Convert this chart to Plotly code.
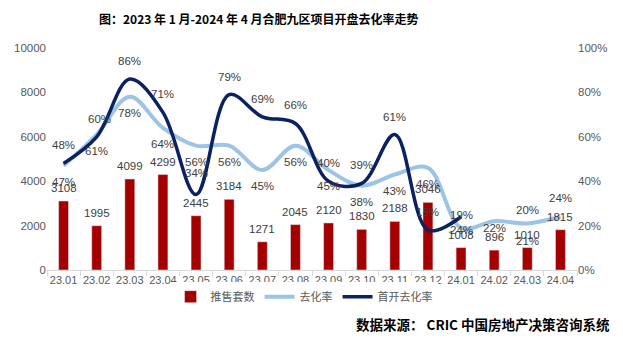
import plotly.graph_objects as go

months = ["23.01","23.02","23.03","23.04","23.05","23.06","23.07","23.08",
          "23.09","23.10","23.11","23.12","24.01","24.02","24.03","24.04"]
supply = [3108,1995,4099,4299,2445,3184,1271,2045,2120,1830,2188,3046,1008,896,1010,1815]
sell_rate = [0.47,0.61,0.78,0.64,0.56,0.56,0.45,0.56,0.45,0.38,0.43,0.46,0.19,0.22,0.21,0.24]
first_rate = [0.48,0.60,0.86,0.71,0.34,0.79,0.69,0.66,0.40,0.39,0.61,0.18,0.24,None,0.20,None]

LABEL_FONT = dict(family="Liberation Sans, Noto Sans CJK SC", size=11.5, color="#404040")

# pixel offsets of data labels (style only)
light_shift = [-16] * len(months)
light_shift[12] = 13
light_shift[13] = -7
light_shift[14] = -18
light_shift[15] = 19
dark_shift = [18] * len(months)
dark_shift[4] = 22
dark_shift[12] = -13
dark_shift[14] = 16
dark_xshift = [0] * len(months)
dark_xshift[1] = 3

fig = go.Figure()
fig.add_trace(go.Bar(
    x=months, y=supply, name="推售套数", marker_color="#A50000", width=0.3,
    yaxis="y"))
fig.add_trace(go.Scatter(
    x=months, y=sell_rate, name="去化率", mode="lines",
    line=dict(color="#9DC3E6", width=4, shape="spline", smoothing=1),
    yaxis="y2"))
fig.add_trace(go.Scatter(
    x=months, y=first_rate, name="首开去化率", mode="lines",
    line=dict(color="#0B2160", width=3.5, shape="spline", smoothing=1),
    connectgaps=False, yaxis="y2"))

# annotations on a category axis use the category index
for i, v in enumerate(supply):
    fig.add_annotation(x=i, y=v, xref="x", yref="y", text=str(v), showarrow=False,
                       yshift=13, font=LABEL_FONT)
for i, (v, s) in enumerate(zip(sell_rate, light_shift)):
    fig.add_annotation(x=i, y=v, xref="x", yref="y2", text=f"{round(v*100)}%",
                       showarrow=False, yshift=s, font=LABEL_FONT)
for i, (v, s, xs) in enumerate(zip(first_rate, dark_shift, dark_xshift)):
    if v is None:
        continue
    fig.add_annotation(x=i, y=v, xref="x", yref="y2", text=f"{round(v*100)}%",
                       showarrow=False, yshift=s, xshift=xs, font=LABEL_FONT)

fig.update_layout(
    width=623, height=340,
    margin=dict(l=47, r=46, t=48, b=70),
    paper_bgcolor="white", plot_bgcolor="white",
    font=dict(family="Liberation Sans, Noto Sans CJK SC", size=11, color="#595959"),
    bargap=0.7,
    xaxis=dict(type="category", range=[-0.5, len(months) - 0.5],
               showgrid=False, showline=True, linecolor="#D9D9D9",
               ticks="outside", tickson="boundaries", ticklen=5, tickcolor="#D9D9D9",
               tickangle=0, tickfont=dict(size=11, color="#595959")),
    yaxis=dict(range=[0, 10000], dtick=2000, tickformat="d", showgrid=False,
               showline=False, zeroline=False, tickfont=dict(size=11.5, color="#595959")),
    yaxis2=dict(range=[0, 1], dtick=0.2, tickformat=".0%", overlaying="y", side="right",
                showgrid=False, showline=False, zeroline=False,
                tickfont=dict(size=11.5, color="#595959")),
    legend=dict(orientation="h", x=0.485, xanchor="center", y=-0.12, yanchor="middle",
                font=dict(size=11, color="#595959", family="Noto Sans CJK SC"),
                itemwidth=30, tracegroupgap=0),
    showlegend=True,
)
fig.add_annotation(text="<b>图：2023 年 1 月-2024 年 4 月合肥九区项目开盘去化率走势</b>",
                   xref="paper", yref="paper", x=(259-47)/530, y=1+(48-18)/222,
                   xanchor="center", yanchor="middle", showarrow=False,
                   font=dict(family="Noto Sans CJK SC", size=12, color="#000000"))
fig.add_annotation(text="<b>数据来源： CRIC 中国房地产决策咨询系统</b>",
                   xref="paper", yref="paper", x=(612-47)/530, y=-(324-270)/222,
                   xanchor="right", yanchor="middle", showarrow=False,
                   font=dict(family="Noto Sans CJK SC", size=13.5, color="#000000"))

fig.write_html("out.html")
